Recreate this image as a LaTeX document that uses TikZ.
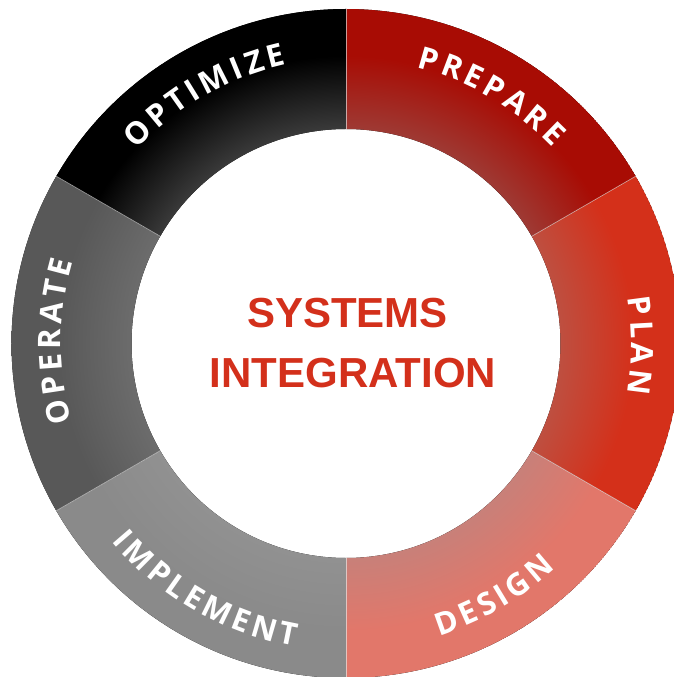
\documentclass[tikz,border=0pt]{standalone}
\usepackage{fontspec}
\usetikzlibrary{decorations.text}
\newfontfamily\ringfam{Open Sans}
\newfontfamily\titlefam{Liberation Sans}
% couleurs des secteurs (C = bord exterieur, I = bord interieur)
\definecolor{prepC}{HTML}{A80C04}
\definecolor{prepI}{HTML}{9E3A34}
\definecolor{planC}{HTML}{D4301A}
\definecolor{planI}{HTML}{BE4F40}
\definecolor{desC}{HTML}{E2776A}
\definecolor{desI}{HTML}{C88079}
\definecolor{impC}{HTML}{8A8A8A}
\definecolor{impI}{HTML}{919191}
\definecolor{opeC}{HTML}{585858}
\definecolor{opeI}{HTML}{6C6C6C}
\definecolor{optC}{HTML}{000000}
\definecolor{optI}{HTML}{3A3A3A}
\definecolor{titleC}{HTML}{D3301B}
% 25bp = rayon exterieur
\newcommand\ringshade[1]{\pgfdeclareradialshading{ring#1}{\pgfpointorigin}%
  {color(0bp)=(#1I);color(16bp)=(#1I);color(21.5bp)=(#1C);color(25bp)=(#1C);color(50bp)=(#1C)}}
\ringshade{prep}\ringshade{plan}\ringshade{des}
\ringshade{imp}\ringshade{ope}\ringshade{opt}
\newcommand\rout{334.5pt}
\newcommand\rin{214.5pt}
\newcommand\rtop{285pt}
\newcommand\rbot{307pt}
\newcommand\ringlabel{\ringfam\bfseries\fontsize{31}{32}\selectfont\color{white}\kern4pt}
% secteur : angle debut, angle fin, degrade
\newcommand\ringseg[3]{%
  \begin{scope}
    \clip (#1:\rout) arc[start angle=#1,end angle=#2,radius=\rout]
      -- (#2:\rin) arc[start angle=#2,end angle=#1,radius=\rin] -- cycle;
    \fill[shading=ring#3] (0,0) circle (\rout);
  \end{scope}}
\tikzset{
  ringtext/.style={decorate,decoration={text along path,text align=center,
    text={|\ringlabel|#1}}},
  segline/.style={white,line width=0.6pt,opacity=0.6},
  titletext/.style={titleC,anchor=base,font=\titlefam\bfseries\fontsize{42}{44}\selectfont}
}
\begin{document}
\begin{tikzpicture}
  \useasboundingbox (-346pt,-333.5pt) rectangle (328pt,343.5pt);
  % Anneau
  \ringseg{30}{90}{prep}   % PREPARE
  \ringseg{-30}{30}{plan}  % PLAN
  \ringseg{-90}{-30}{des}  % DESIGN
  \ringseg{210}{270}{imp}  % IMPLEMENT
  \ringseg{150}{210}{ope}  % OPERATE
  \ringseg{90}{150}{opt}   % OPTIMIZE
  % separations
  \foreach \a in {30,90,...,330}
    \draw[segline] (\a:\rin) -- (\a:\rout);
  % textes du haut (sens horaire)
  \path[ringtext=PREPARE] (90:\rtop) arc[start angle=90,end angle=30,radius=\rtop];
  \path[ringtext=PLAN] (30:\rtop) arc[start angle=30,end angle=-30,radius=\rtop];
  \path[ringtext=OPERATE] (210:\rtop) arc[start angle=210,end angle=150,radius=\rtop];
  \path[ringtext=OPTIMIZE] (150:\rtop) arc[start angle=150,end angle=90,radius=\rtop];
  % textes du bas (sens direct)
  \path[ringtext=DESIGN] (270:\rbot) arc[start angle=270,end angle=330,radius=\rbot];
  \path[ringtext=IMPLEMENT] (210:\rbot) arc[start angle=210,end angle=270,radius=\rbot];
  % Titre
  \node[titletext] (systems) at (1.5pt,15.5pt) {SYSTEMS};
  \node[titletext] (integration) at (7pt,-44.5pt) {INTEGRATION};
\end{tikzpicture}
\end{document}
